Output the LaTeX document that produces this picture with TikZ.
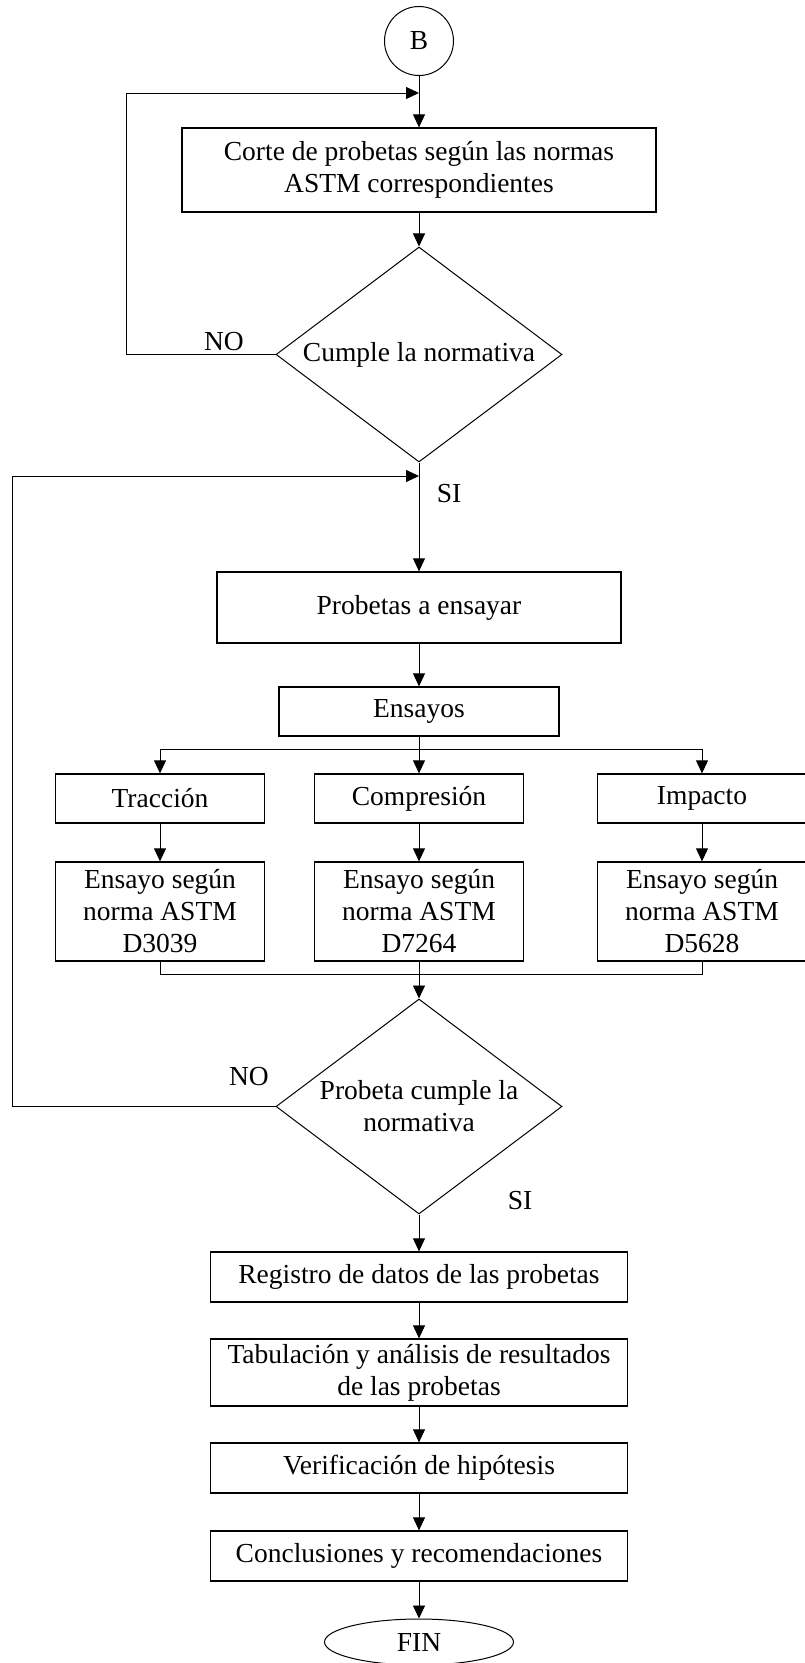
\documentclass[tikz,border=0pt]{standalone}
\usepackage{fontspec}
\setmainfont{Liberation Serif}
\usetikzlibrary{shapes.geometric,arrows.meta}

\begin{document}
\begin{tikzpicture}
    [x = 1pt, y = -1pt, font = \fontsize{27.5}{32}\selectfont,
     caja/.style = {draw, line width = 1.3pt, align = center, inner sep = 0pt},
     decision/.style = {draw, diamond, line width = 1pt, minimum width = 286pt, minimum height = 215pt, inner sep = 0pt},
     flecha/.style = {line width = .8pt, -{Triangle[length = 13pt, width = 12pt]}},
     linea/.style = {line width = .8pt}]
    \useasboundingbox (0,0) rectangle (805,1663);

    \node[draw, circle, line width = 1pt, minimum size = 69pt, inner sep = 0pt] (b) at (419,41) {B};
    \node[caja, minimum width = 474pt, minimum height = 84pt] (corte) at (419,170) {Corte de probetas según las normas\\ASTM correspondientes};
    \node[decision, label = {center:Cumple la normativa}] (d1) at (419,354.5) {};
    \node[caja, minimum width = 404pt, minimum height = 71pt] (probetas) at (419,607.5) {Probetas a ensayar};
    \node[caja, minimum width = 280pt, minimum height = 49pt] (ensayos) at (419,711.5) {Ensayos};

    \node[caja, minimum width = 209pt, minimum height = 49pt] (traccion) at (160,798.5) {Tracción};
    \node[caja, minimum width = 209pt, minimum height = 49pt] (compresion) at (419,798.5) {Compresión};
    \node[caja, minimum width = 209pt, minimum height = 49pt] (impacto) at (702,798.5) {Impacto};
    \node[caja, minimum width = 209pt, minimum height = 99pt] (norma1) at (160,911.5) {Ensayo según\\norma ASTM\\D3039};
    \node[caja, minimum width = 209pt, minimum height = 99pt] (norma2) at (419,911.5) {Ensayo según\\norma ASTM\\D7264};
    \node[caja, minimum width = 209pt, minimum height = 99pt] (norma3) at (702,911.5) {Ensayo según\\norma ASTM\\D5628};

    \node[decision, label = {[align = center]center:Probeta cumple la\\normativa}] (d2) at (419,1106.5) {};
    \node[caja, minimum width = 417pt, minimum height = 50pt] (registro) at (419,1277) {Registro de datos de las probetas};
    \node[caja, minimum width = 417pt, minimum height = 67pt] (tabulacion) at (419,1372.5) {Tabulación y análisis de resultados\\de las probetas};
    \node[caja, minimum width = 417pt, minimum height = 50pt] (verificacion) at (419,1468) {Verificación de hipótesis};
    \node[caja, minimum width = 417pt, minimum height = 50pt] (conclusiones) at (419,1556) {Conclusiones y recomendaciones};
    \node[draw, ellipse, line width = 1pt, minimum width = 189pt, minimum height = 46pt, inner sep = 0pt] (fin) at (419,1642) {FIN};

    \node (no1) at (224,342) {NO};
    \node (si1) at (449,494) {SI};
    \node (no2) at (249,1077) {NO};
    \node (si2) at (520,1201) {SI};

    \coordinate (j1) at (419,93);
    \coordinate (j2) at (419,476);
    \coordinate (ramal) at (419,749);
    \coordinate (union) at (419,974);

    \draw[linea] (b) -- (j1);
    \draw[linea] (d1) -- (j2);
    \draw[linea] (ensayos) -- (ramal);
    \draw[flecha] (d1.west) -- ++(-149,0) |- (j1);
    \draw[flecha] (d2.west) -- ++(-263,0) |- (j2);

    \foreach \t in {traccion,compresion,impacto}
      \draw[flecha] (ramal) -| (\t);
    \foreach \t in {norma1,norma2,norma3}
      \draw[linea] (\t) |- (union);

    \foreach \from/ \to in {j1/corte,corte/d1,j2/probetas,probetas/ensayos,traccion/norma1,compresion/norma2,impacto/norma3,union/d2,d2/registro,registro/tabulacion,tabulacion/verificacion,verificacion/conclusiones,conclusiones/fin}
      \draw[flecha] (\from) -- (\to);
  \end{tikzpicture}
\end{document}
